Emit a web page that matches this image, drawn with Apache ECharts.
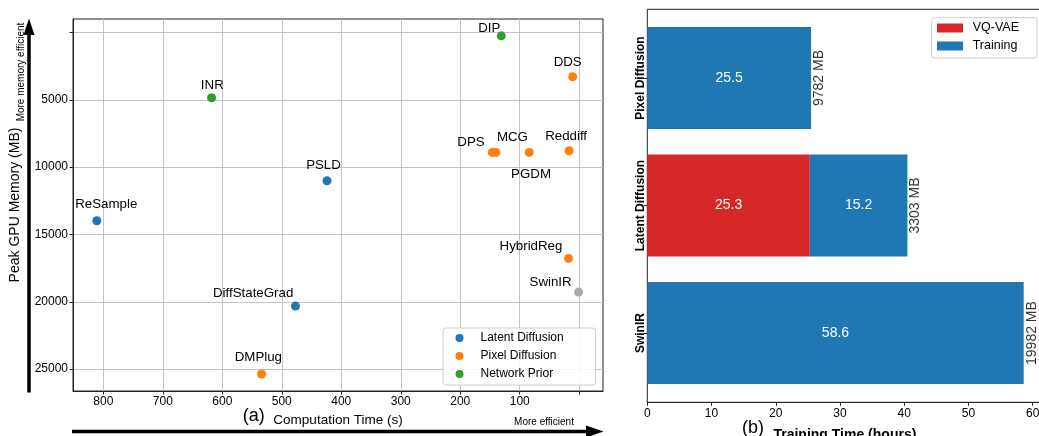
<!DOCTYPE html>
<html><head><meta charset="utf-8">
<script src="https://cdn.jsdelivr.net/npm/echarts@6/dist/echarts.min.js"></script>
<style>html,body{margin:0;padding:0;background:#fff}#c{width:1039px;height:436px}</style>
</head><body><div id="c"></div>
<script>
// ---------- Panel (a) data ----------
const latentNames = ['ReSample', 'PSLD', 'DiffStateGrad'];
const latentTime  = [811, 424, 477];
const latentMem   = [13980, 11010, 20320];

const pixelNames = ['DMPlug', 'DPS', 'MCG', 'PGDM', 'Reddiff', 'DDS', 'HybridReg'];
const pixelTime  = [534, 146, 140, 84, 17, 11, 18];
const pixelMem   = [25370, 8900, 8900, 8900, 8780, 3280, 16780];

const priorNames = ['DIP', 'INR'];
const priorTime  = [131, 618];
const priorMem   = [240, 4840];

const otherNames = ['SwinIR'];
const otherTime  = [1];
const otherMem   = [19280];

const xTickValues  = [800, 700, 600, 500, 400, 300, 200, 100, 0];
const xLabelValues = [800, 700, 600, 500, 400, 300, 200, 100];
const yTickValues  = [0, 5000, 10000, 15000, 20000, 25000];
const yLabelValues = [5000, 10000, 15000, 20000, 25000];

// ---------- Panel (b) data ----------
const barCategories = ['Pixel Diffusion', 'Latent Diffusion', 'SwinIR'];
const vqvaeHours    = [null, 25.3, null];
const trainingHours = [25.5, 15.2, 58.6];
const peakMemoryMB  = [9782, 3303, 19982];
const hourTicks     = [0, 10, 20, 30, 40, 50, 60];

// ---------- styling (label placement offsets, px) ----------
const labelOffsets = {
  ReSample: [9.5, -16], PSLD: [-3.5, -15.7], DiffStateGrad: [-42.3, -12.7],
  DMPlug: [-3.2, -17], DPS: [-21.4, -9.6], MCG: [16.5, -15], PGDM: [1.8, 21.7],
  Reddiff: [-3, -14.4], DDS: [-5, -14.4], HybridReg: [-37.5, -12.3],
  DIP: [-12, -7.4], INR: [0.7, -12.7], SwinIR: [-28, -9.7]
};
const FONT = 'Liberation Sans, Arial, Helvetica, sans-serif';
const C_BLUE = '#1f77b4', C_ORANGE = '#ff7f0e', C_GREEN = '#2ca02c', C_RED = '#d62728', C_GRAY = '#a9a9a9';

function pts(names, t, m) {
  return names.map((n, i) => ({ name: n, value: [t[i], m[i]], label: { offset: labelOffsets[n] } }));
}
function scatterSeries(name, color, data) {
  return {
    name, type: 'scatter', xAxisIndex: 0, yAxisIndex: 0, symbolSize: 9,
    itemStyle: { color, opacity: 1 }, data,
    label: { show: true, position: 'inside', formatter: '{b}', color: '#000', fontSize: 13.3,
             fontFamily: FONT, align: 'center', verticalAlign: 'middle' },
    emphasis: { disabled: true }, z: 5
  };
}

const chart = echarts.init(document.getElementById('c'), null, { renderer: 'canvas' });
const axisLineStyle = { color: '#222', width: 1 };
const plain = v => String(v);

const option = {
  animation: false,
  textStyle: { fontFamily: FONT },
  grid: [
    { left: 73, top: 19, width: 530, height: 372, show: true, borderColor: '#222', borderWidth: 1,
      backgroundColor: 'transparent', outerBoundsMode: 'none', containLabel: false },
    { left: 647.3, top: 9.3, width: 395.2, height: 393, show: true, borderColor: '#222', borderWidth: 1,
      backgroundColor: 'transparent', outerBoundsMode: 'none', containLabel: false },
    { left: 647.3, top: 14.3, width: 395.2, height: 382.5, outerBoundsMode: 'none', containLabel: false }
  ],
  legend: [
    {
      data: ['Latent Diffusion', 'Pixel Diffusion', 'Network Prior'],
      orient: 'vertical', left: 443, top: 328, icon: 'circle', itemWidth: 8, itemHeight: 8, itemGap: 4,
      padding: [3, 32, 4, 12.5], borderColor: '#cccccc', borderWidth: 1, borderRadius: 3,
      backgroundColor: 'rgba(255,255,255,0.85)', selectedMode: false,
      textStyle: { fontSize: 12, color: '#000', fontFamily: FONT, lineHeight: 14, padding: [0, 0, 0, 12] }
    },
    {
      data: ['VQ-VAE', 'Training'],
      orient: 'vertical', left: 931.7, top: 17.7, icon: 'rect', itemWidth: 26, itemHeight: 9, itemGap: 4,
      padding: [3.3, 18, 5, 5.3], borderColor: '#cccccc', borderWidth: 1, borderRadius: 3,
      backgroundColor: 'rgba(255,255,255,0.85)', selectedMode: false,
      textStyle: { fontSize: 12.5, color: '#000', fontFamily: FONT, lineHeight: 14, padding: [0, 0, 0, 4.7] }
    }
  ],
  xAxis: [
    {
      gridIndex: 0, type: 'value', inverse: true, min: -40, max: 851, minInterval: 100, maxInterval: 100,
      name: 'Computation Time (s)', nameLocation: 'middle', nameGap: 20,
      nameTextStyle: { fontSize: 13.5, color: '#000', fontFamily: FONT },
      axisLine: { show: true, onZero: false, lineStyle: axisLineStyle },
      axisTick: { show: true, customValues: xTickValues, length: 3.5, inside: false, lineStyle: axisLineStyle },
      axisLabel: { customValues: xLabelValues, formatter: plain, fontSize: 12, color: '#000', margin: 5, fontFamily: FONT },
      splitLine: { show: true, lineStyle: { color: '#c4c4c4', width: 1 } }
    },
    {
      gridIndex: 1, type: 'value', min: 0, max: 61.53, minInterval: 10, maxInterval: 10,
      name: 'Training Time (hours)', nameLocation: 'middle', nameGap: 26,
      nameTextStyle: { fontSize: 14, fontWeight: 'bold', color: '#000', fontFamily: FONT },
      axisLine: { show: true, onZero: false, lineStyle: axisLineStyle },
      axisTick: { show: true, customValues: hourTicks, length: 3.5, lineStyle: axisLineStyle },
      axisLabel: { customValues: hourTicks, formatter: plain, fontSize: 12, color: '#000', margin: 5, fontFamily: FONT },
      splitLine: { show: false }
    },
    { gridIndex: 2, type: 'value', min: 0, max: 61.53, show: false, splitLine: { show: false } }
  ],
  yAxis: [
    {
      gridIndex: 0, type: 'value', inverse: true, min: -1010, max: 26630, minInterval: 5000, maxInterval: 5000,
      name: 'Peak GPU Memory (MB)', nameLocation: 'middle', nameGap: 51,
      nameTextStyle: { fontSize: 14, color: '#000', fontFamily: FONT },
      axisLine: { show: true, onZero: false, lineStyle: axisLineStyle },
      axisTick: { show: true, customValues: yTickValues, length: 3.5, lineStyle: axisLineStyle },
      axisLabel: { customValues: yLabelValues, formatter: plain, fontSize: 12, color: '#000', margin: 5, fontFamily: FONT },
      splitLine: { show: true, lineStyle: { color: '#c4c4c4', width: 1 } }
    },
    { gridIndex: 1, type: 'value', show: false, splitLine: { show: false } },
    {
      gridIndex: 2, type: 'category', inverse: true, data: barCategories,
      axisLine: { show: false },
      axisTick: { show: true, alignWithLabel: true, length: 3.5, lineStyle: axisLineStyle },
      axisLabel: { rotate: 90, fontSize: 12, fontWeight: 'bold', color: '#000', margin: 1, fontFamily: FONT }
    }
  ],
  series: [
    scatterSeries('Latent Diffusion', C_BLUE, pts(latentNames, latentTime, latentMem)),
    scatterSeries('Pixel Diffusion', C_ORANGE, pts(pixelNames, pixelTime, pixelMem)),
    scatterSeries('Network Prior', C_GREEN, pts(priorNames, priorTime, priorMem)),
    scatterSeries('Other', C_GRAY, pts(otherNames, otherTime, otherMem)),
    {
      name: 'VQ-VAE', type: 'bar', xAxisIndex: 2, yAxisIndex: 2, stack: 'total', barWidth: '80%',
      itemStyle: { color: C_RED }, data: vqvaeHours,
      label: { show: true, position: 'inside', color: '#fff', fontSize: 14, fontFamily: FONT,
               formatter: p => (p.value == null ? '' : p.value.toFixed(1)) },
      emphasis: { disabled: true }
    },
    {
      name: 'Training', type: 'bar', xAxisIndex: 2, yAxisIndex: 2, stack: 'total', barWidth: '80%',
      itemStyle: { color: C_BLUE }, data: trainingHours,
      label: { show: true, position: 'inside', color: '#fff', fontSize: 14, fontFamily: FONT,
               formatter: p => p.value.toFixed(1) },
      emphasis: { disabled: true }
    },
    {
      name: 'Memory', type: 'scatter', xAxisIndex: 2, yAxisIndex: 2, symbolSize: 0, silent: true,
      data: barCategories.map((c, i) => [(vqvaeHours[i] || 0) + trainingHours[i], c]),
      label: { show: true, position: 'right', distance: 1, rotate: 90, align: 'center', verticalAlign: 'top',
               color: '#000', fontSize: 14, fontFamily: FONT,
               formatter: p => peakMemoryMB[p.dataIndex] + ' MB' },
      z: 6
    }
  ],
  graphic: [
    // vertical arrow (memory)
    { type: 'line', shape: { x1: 29, y1: 392.5, x2: 29, y2: 33 }, style: { stroke: '#000', lineWidth: 3.5 }, silent: true },
    { type: 'polygon', shape: { points: [[29, 18.5], [23.5, 35], [34.5, 35]] }, style: { fill: '#000' }, silent: true },
    { type: 'text', x: 21, y: 72, rotation: Math.PI / 2, silent: true,
      style: { text: 'More memory efficient', font: '10px ' + FONT, fill: '#000', align: 'center', verticalAlign: 'middle' } },
    // horizontal arrow (time)
    { type: 'line', shape: { x1: 72, y1: 431.5, x2: 588, y2: 431.5 }, style: { stroke: '#000', lineWidth: 3.5 }, silent: true },
    { type: 'polygon', shape: { points: [[603.5, 431.5], [586, 425.5], [586, 437.5]] }, style: { fill: '#000' }, silent: true },
    { type: 'text', x: 544, y: 422.5, silent: true,
      style: { text: 'More efficient', font: '10px ' + FONT, fill: '#000', align: 'center', verticalAlign: 'middle' } },
    // panel tags
    { type: 'text', x: 253.7, y: 416, silent: true,
      style: { text: '(a)', font: '18px ' + FONT, fill: '#000', align: 'center', verticalAlign: 'middle' } },
    { type: 'text', x: 753, y: 428, silent: true,
      style: { text: '(b)', font: '18px ' + FONT, fill: '#000', align: 'center', verticalAlign: 'middle' } }
  ]
};
chart.setOption(option);
</script>
</body></html>
